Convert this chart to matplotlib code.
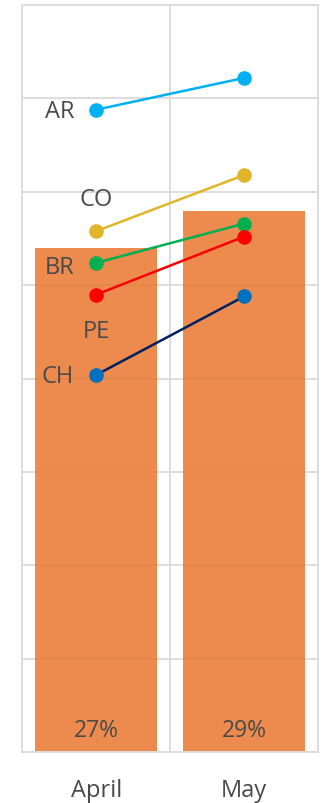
import matplotlib
matplotlib.use("Agg")
import matplotlib.pyplot as plt

plt.rcParams['font.family'] = ['Open Sans', 'DejaVu Sans']

months = ["April", "May"]
share = [27, 29]
share_labels = ["27%", "29%"]

countries = ["AR", "CO", "BR", "PE", "CH"]
country_values = {
    "AR": [34.4, 36.1],
    "CO": [27.9, 30.9],
    "BR": [26.2, 28.3],
    "PE": [24.5, 27.6],
    "CH": [20.2, 24.4],
}
line_colors = {"AR": "#00B0F0", "CO": "#E0B52A", "BR": "#00B050", "PE": "#FF0000", "CH": "#002060"}
marker_colors = {"AR": "#00B0F0", "CO": "#E0B52A", "BR": "#00B050", "PE": "#FF0000", "CH": "#0070C0"}
# where each country's name sits relative to its April point (points)
label_pos = {"AR": ("left", -16, -1), "CO": ("above", 0, 23), "BR": ("left", -16, -3),
             "PE": ("below", 0, -26), "CH": ("left", -16, -1)}

fig = plt.figure(figsize=(3.27, 8.04), dpi=100)
ax = fig.add_axes([0.0688, 0.0634, 0.9037, 0.929])

x = list(range(len(months)))
ax.set_xlim(-0.5, 1.5)
ax.set_ylim(0, 40)
ax.set_yticks(range(0, 41, 5))
ax.set_xticks([0.5], minor=False)
ax.grid(True, color="#DDDDDD", linewidth=1.4)
ax.set_axisbelow(True)
ax.tick_params(length=0, labelleft=False, labelbottom=False)
for s in ax.spines.values():
    s.set_color("#DDDDDD")
    s.set_linewidth(1.4)

bars = ax.bar(x, share, width=0.825, color="#EA7E3A", alpha=0.9, zorder=2)
for xi, lab in zip(x, share_labels):
    ax.annotate(lab, (xi, 0), xytext=(0, 15.5), textcoords="offset points",
                ha="center", va="center", fontsize=16.5, color="#4A4A4A", zorder=3)

for xi, m in zip(x, months):
    ax.annotate(m, (xi, 0), xytext=(0, -27), textcoords="offset points",
                ha="center", va="center", fontsize=17, color="#4A4A4A",
                annotation_clip=False)

for c in countries:
    vals = country_values[c]
    ax.plot(x, vals, color=line_colors[c], linewidth=1.8, zorder=4)
    ax.plot(x, vals, linestyle="none", marker="o", markersize=9.5,
            color=marker_colors[c], zorder=5)
    pos, dx, dy = label_pos[c]
    ha = "right" if pos == "left" else "center"
    ax.annotate(c, (x[0], vals[0]), xytext=(dx, dy), textcoords="offset points",
                ha=ha, va="center", fontsize=17, color="#4A4A4A", zorder=6)

fig.savefig("out.png", dpi=100)
